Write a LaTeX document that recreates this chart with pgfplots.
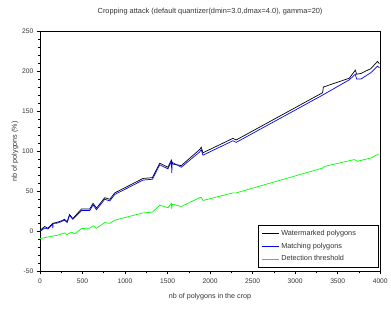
\documentclass[border=0pt]{standalone}
\usepackage{fontspec}
\setmainfont{Liberation Sans}
\usepackage{pgfplots}
\pgfplotsset{compat=1.18}
\definecolor{mygreen}{RGB}{0,255,0}
\begin{document}
\begin{tikzpicture}
\begin{axis}[
  scale only axis,
  width=341pt, height=241pt,
  xmin=0, xmax=4000, ymin=-50, ymax=250,
  xtick={0,500,...,4000}, ytick={-50,0,...,250},
  minor x tick num=1, minor y tick num=4,
  tick pos=left, tick align=outside,
  major tick length=3pt, minor tick length=2pt,
  tick style={black, line width=0.6pt},
  axis line style={line width=0.8pt},
  /pgf/number format/assume math mode=true,
  /pgf/number format/1000 sep={},
  ticklabel style={font=\fontsize{6.7}{7}\selectfont, text=black!80},
  xticklabel style={yshift=-1pt},
  title={Cropping attack (default quantizer(dmin=3.0,dmax=4.0), gamma=20)},
  title style={font=\fontsize{7.4}{8}\selectfont, yshift=6pt, text=black!80},
  xlabel={nb of polygons in the crop},
  ylabel={nb of polygons (\%)},
  label style={font=\fontsize{7.2}{8}\selectfont, text=black!80},
  xlabel style={yshift=-3pt},
  ylabel style={yshift=-3pt},
  legend style={at={(0.995,0.015)}, anchor=south east, font=\fontsize{7.3}{8}\selectfont, draw=black, line width=0.9pt, inner xsep=3pt, inner ysep=3pt, row sep=2pt, text=black!80},
  legend cell align=left,
  legend image post style={line width=0.7pt},
]
\addplot[black, line width=0.7pt] coordinates {
(0,1) (55,6) (94,4) (152,10) (192,11) (250,13) (289,15) (320,12) (348,21) (387,16) (489,28) (586,28) (625,35) (665,29) (762,42) (821,40) (880,48) (1212,66) (1322,67) (1408,85) (1505,80) (1545,89) (1560,84) (1662,82) (1877,102) (1896,105) (1916,98) (2268,116) (2307,114) (3323,173) (3331,180) (3636,191) (3707,201) (3722,196) (3773,197) (3890,203) (3968,212) (3990,209)
};
\addlegendentry{\makebox[92pt][l]{Watermarked polygons}}
\addplot[blue, line width=0.7pt] coordinates {
(0,0) (55,4) (94,3) (150,9) (152,4) (155,10) (192,10) (250,12) (289,14) (320,11) (348,20) (387,15) (489,26) (586,26) (625,33) (665,27) (762,40) (821,38) (880,46) (1212,64) (1322,65) (1408,83) (1505,78) (1545,87) (1550,73) (1555,86) (1662,80) (1877,99) (1896,102) (1916,95) (2268,113) (2307,111) (3323,170) (3331,170.5) (3636,189) (3707,196) (3722,190) (3773,190) (3890,198) (3968,206) (3990,204)
};
\addlegendentry{Matching polygons}
\addplot[mygreen, line width=0.7pt] coordinates {
(0,-9) (94,-7) (200,-5) (289,-2) (313,-4) (372,-1) (411,-3) (489,3.5) (586,4) (625,7) (665,4) (762,11) (821,10) (880,14) (1212,23) (1322,24) (1408,32.5) (1505,29.5) (1545,35) (1550,28) (1555,34) (1662,31) (1877,42) (1896,42.5) (1916,38.5) (2268,48) (2307,48) (3323,79) (3343,81) (3695,89.5) (3734,87.5) (3890,91.5) (3980,96.5)
};
\addlegendentry{Detection threshold}
\end{axis}
\path (current axis.south west) ++(-40pt,-37pt) rectangle ([xshift=10pt,yshift=31pt]current axis.north east);
\end{tikzpicture}
\end{document}
